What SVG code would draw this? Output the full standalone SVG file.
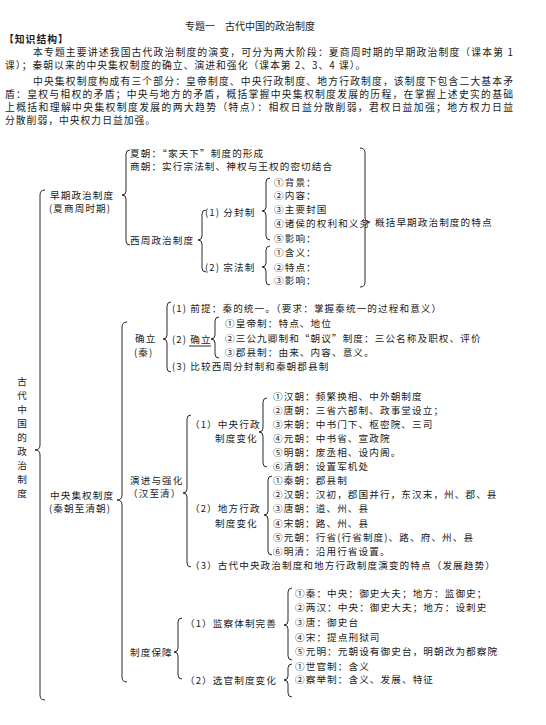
<svg xmlns="http://www.w3.org/2000/svg" width="546" height="725" viewBox="0 0 546 725">
<style>
text { font-family: "Noto Sans CJK SC", "Noto Sans", sans-serif; font-size: 9.6px; letter-spacing: 1.1px; fill: #1a1a1a; dominant-baseline: central; }
.hd { font-size: 9.8px; letter-spacing: 1px; }
.j { letter-spacing: 0; }
.t { font-size: 10px; letter-spacing: 0; }
.b { font-weight: bold; }
.v { text-anchor: middle; letter-spacing: 0; }
.brace { fill: none; stroke: #2a2a2a; stroke-width: 1; }
</style>
<rect width="546" height="725" fill="#ffffff"/>

<g id="header">
  <text class="t" x="185" y="25">专题一　古代中国的政治制度</text>
  <text class="hd b" x="4" y="39">【知识结构】</text>
  <text class="hd j" x="33" y="52" textLength="480" lengthAdjust="spacing">本专题主要讲述我国古代政治制度的演变，可分为两大阶段：夏商周时期的早期政治制度（课本第 1</text>
  <text class="hd" x="5" y="65">课）；秦朝以来的中央集权制度的确立、演进和强化（课本第 2、3、4 课）。</text>
  <text class="hd j" x="33" y="80.5" textLength="480" lengthAdjust="spacing">中央集权制度构成有三个部分：皇帝制度、中央行政制度、地方行政制度，该制度下包含二大基本矛</text>
  <text class="hd j" x="5" y="93.5" textLength="508" lengthAdjust="spacing">盾：皇权与相权的矛盾；中央与地方的矛盾，概括掌握中央集权制度发展的历程，在掌握上述史实的基础</text>
  <text class="hd j" x="5" y="106.5" textLength="508" lengthAdjust="spacing">上概括和理解中央集权制度发展的两大趋势（特点）：相权日益分散削弱，君权日益加强；地方权力日益</text>
  <text class="hd" x="5" y="119.5">分散削弱，中央权力日益加强。</text>
</g>

<g id="connectors">
  <path class="brace" d="M45 190 Q40 190 40 195 V445 Q40 450 35 450 Q40 450 40 455 V695 Q40 700 45 700"/>
  <path class="brace" d="M130 150 Q126 150 126 154 V191 Q126 195 122 195 Q126 195 126 199 V241 Q126 245 130 245"/>
  <path class="brace" d="M206 210 Q202 210 202 214 V236 Q202 240 198 240 Q202 240 202 244 V268 Q202 272 206 272"/>
  <path class="brace" d="M270 178 Q266 178 266 182 V207 Q266 211 262 211 Q266 211 266 215 V236 Q266 240 270 240"/>
  <path class="brace" d="M270 246 Q266 246 266 250 V263 Q266 267 262 267 Q266 267 266 271 V281 Q266 285 270 285"/>
  <path class="brace" d="M360 148 Q365 148 365 153 V217 Q365 222 370 222 Q365 222 365 227 V282 Q365 287 360 287"/>
  <path class="brace" d="M127 322 Q122 322 122 327 V495 Q122 500 117 500 Q122 500 122 505 V677 Q122 682 127 682"/>
  <path class="brace" d="M171 302 Q167 302 167 306 V335 Q167 339 163 339 Q167 339 167 343 V368 Q167 372 171 372"/>
  <path class="brace" d="M219 317 Q215 317 215 321 V335 Q215 339 211 339 Q215 339 215 343 V354 Q215 358 219 358"/>
  <line class="brace" x1="189" y1="346" x2="211" y2="346"/>
  <path class="brace" d="M191 415 Q187 415 187 419 V489 Q187 493 183 493 Q187 493 187 497 V563 Q187 567 191 567"/>
  <path class="brace" d="M267 398 Q263 398 263 402 V428 Q263 432 259 432 Q263 432 263 436 V463 Q263 467 267 467"/>
  <path class="brace" d="M272 476 Q268 476 268 480 V511 Q268 515 264 515 Q268 515 268 519 V551 Q268 555 272 555"/>
  <path class="brace" d="M182 618 Q178 618 178 622 V648 Q178 652 174 652 Q178 652 178 656 V675 Q178 679 182 679"/>
  <path class="brace" d="M292 588 Q288 588 288 592 V621 Q288 625 284 625 Q288 625 288 629 V656 Q288 660 292 660"/>
  <path class="brace" d="M292 664 Q288 664 288 668 V676 Q288 680 284 680 Q288 680 288 684 V693 Q288 697 292 697"/>
</g>

<g id="root">
  <text class="v" x="22" y="381">古</text>
  <text class="v" x="22" y="395">代</text>
  <text class="v" x="22" y="409">中</text>
  <text class="v" x="22" y="423">国</text>
  <text class="v" x="22" y="437">的</text>
  <text class="v" x="22" y="451">政</text>
  <text class="v" x="22" y="465">治</text>
  <text class="v" x="22" y="479">制</text>
  <text class="v" x="22" y="493">度</text>
</g>

<g id="early">
  <text x="50" y="195">早期政治制度</text>
  <text x="49" y="208">(夏商周时期)</text>
</g>
<g id="early-items">
  <text x="130" y="153">夏朝：“家天下”制度的形成</text>
  <text x="130" y="166">商朝：实行宗法制、神权与王权的密切结合</text>
  <text x="130" y="240">西周政治制度</text>
</g>
<g id="fenfeng">
  <text x="205" y="212">(1) 分封制</text>
  <text x="274" y="182">①背景：</text>
  <text x="274" y="195">②内容：</text>
  <text x="274" y="209">③主要封国</text>
  <text x="274" y="223">④诸侯的权利和义务</text>
  <text x="274" y="238">⑤影响：</text>
</g>
<g id="zongfa">
  <text x="205" y="267">(2) 宗法制</text>
  <text x="274" y="252">①含义：</text>
  <text x="274" y="267">②特点：</text>
  <text x="274" y="280">③影响：</text>
</g>
<g id="summary">
  <text x="375" y="222">概括早期政治制度的特点</text>
</g>

<g id="central">
  <text x="50" y="495">中央集权制度</text>
  <text x="49" y="508">(秦朝至清朝)</text>
</g>

<g id="queli">
  <text x="135" y="338">确立</text>
  <text x="134" y="352">(秦)</text>
  <text x="172" y="308">(1) 前提：秦的统一。（要求：掌握秦统一的过程和意义）</text>
  <text x="172" y="339">(2) 确立</text>
  <text x="172" y="366">(3) 比较西周分封制和秦朝郡县制</text>
  <text x="225" y="323">①皇帝制：特点、地位</text>
  <text x="225" y="338">②三公九卿制和“朝议”制度：三公名称及职权、评价</text>
  <text x="225" y="352">③郡县制：由来、内容、意义。</text>
</g>

<g id="yanjin">
  <text x="130" y="480">演进与强化</text>
  <text x="128" y="493">（汉至清）</text>
  <text x="190" y="424">（1）中央行政</text>
  <text x="215" y="438">制度变化</text>
  <text x="273" y="396">①汉朝：频繁换相、中外朝制度</text>
  <text x="273" y="410">②唐朝：三省六部制、政事堂设立；</text>
  <text x="273" y="424">③宋朝：中书门下、枢密院、三司</text>
  <text x="273" y="438">④元朝：中书省、宣政院</text>
  <text x="273" y="452">⑤明朝：废丞相、设内阁。</text>
  <text x="273" y="466">⑥清朝：设置军机处</text>
  <text x="190" y="508">（2）地方行政</text>
  <text x="215" y="523">制度变化</text>
  <text x="273" y="480">①秦朝：郡县制</text>
  <text x="273" y="494">②汉朝：汉初，郡国并行，东汉末，州、郡、县</text>
  <text x="273" y="508">③唐朝：道、州、县</text>
  <text x="273" y="523">④宋朝：路、州、县</text>
  <text x="273" y="537">⑤元朝：行省(行省制度)、路、府、州、县</text>
  <text x="273" y="551">⑥明清：沿用行省设置。</text>
  <text x="190" y="565">（3）古代中央政治制度和地方行政制度演变的特点（发展趋势）</text>
</g>

<g id="baozhang">
  <text x="130" y="652">制度保障</text>
  <text x="185" y="623">（1）监察体制完善</text>
  <text x="185" y="680">（2）选官制度变化</text>
  <text x="295" y="593">①秦：中央：御史大夫；地方：监御史；</text>
  <text x="295" y="607">②两汉：中央：御史大夫；地方：设刺史</text>
  <text x="295" y="622">③唐：御史台</text>
  <text x="295" y="637">④宋：提点刑狱司</text>
  <text x="295" y="651">⑤元明：元朝设有御史台，明朝改为都察院</text>
  <text x="295" y="666">①世官制：含义</text>
  <text x="295" y="679">②察举制：含义、发展、特征</text>
</g>
</svg>
